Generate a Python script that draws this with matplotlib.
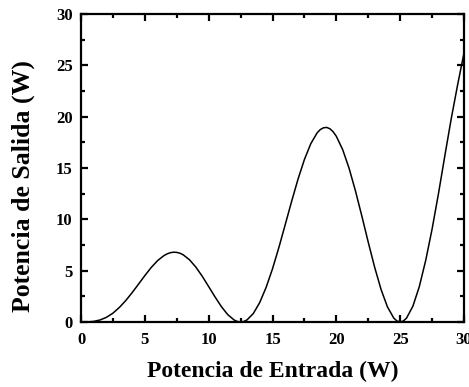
import matplotlib
matplotlib.use("Agg")
import matplotlib.pyplot as plt
from matplotlib.ticker import MultipleLocator

# Input power (W) and the corresponding output power (W)
p_in = [0.0, 0.5, 1.0, 1.5, 2.0, 2.5, 3.0, 3.5, 4.0, 4.5,
        5.0, 5.5, 6.0, 6.5, 6.75, 7.0, 7.25, 7.5, 7.75, 8.0, 8.5, 9.0, 9.5,
        10.0, 10.5, 11.0, 11.5, 12.0, 12.25, 12.5, 12.75, 13.0, 13.5, 14.0, 14.5,
        15.0, 15.5, 16.0, 16.5, 17.0, 17.5, 18.0, 18.5, 18.75, 19.0, 19.25, 19.5,
        19.75, 20.0, 20.5, 21.0, 21.5, 22.0, 22.5, 23.0, 23.5, 24.0, 24.5, 24.75,
        25.0, 25.25, 25.5, 26.0, 26.5, 27.0, 27.5, 28.0, 28.5, 29.0, 29.5, 30.0]
p_out = [0.0, 0.01, 0.06, 0.20, 0.46, 0.86, 1.41, 2.08, 2.85, 3.68,
         4.52, 5.31, 5.98, 6.47, 6.64, 6.75, 6.80, 6.78, 6.70, 6.55, 6.06, 5.34, 4.45,
         3.45, 2.44, 1.49, 0.71, 0.19, 0.05, 0.0, 0.05, 0.20, 0.83, 1.90, 3.37,
         5.18, 7.26, 9.50, 11.76, 13.92, 15.83, 17.37, 18.43, 18.75, 18.92, 18.95, 18.82,
         18.53, 18.09, 16.78, 14.97, 12.76, 10.31, 7.77, 5.34, 3.18, 1.48, 0.38, 0.10,
         0.0, 0.10, 0.38, 1.55, 3.45, 6.00, 9.05, 12.50, 16.20, 19.80, 23.10, 26.2]

x_ticks = [0, 5, 10, 15, 20, 25, 30]
y_ticks = [0, 5, 10, 15, 20, 25, 30]

serif = ["Liberation Serif", "DejaVu Serif"]

fig = plt.figure(figsize=(4.69, 3.87), dpi=100)
ax = fig.add_axes([81 / 469, 65 / 387, 383 / 469, 308 / 387])

ax.plot(p_in, p_out, color="black", linewidth=1.1, solid_joinstyle="round")

ax.set_xlim(0, 30)
ax.set_ylim(0, 30)
ax.set_xticks(x_ticks)
ax.set_yticks(y_ticks)
ax.xaxis.set_minor_locator(MultipleLocator(2.5))
ax.yaxis.set_minor_locator(MultipleLocator(2.5))

for s in ax.spines.values():
    s.set_linewidth(1.6)

ax.tick_params(which="both", direction="in", top=True, right=True, width=1.6)
ax.tick_params(which="major", length=5)
ax.tick_params(which="minor", length=3)
ax.tick_params(axis="x", which="major", pad=7)
ax.tick_params(axis="y", which="major", pad=6)

for lbl in ax.get_xticklabels() + ax.get_yticklabels():
    lbl.set_fontfamily(serif)
    lbl.set_fontweight("bold")
    lbl.set_fontsize(12)

ax.set_xlabel("Potencia de Entrada (W)", family=serif, fontweight="bold",
              fontsize=17)
ax.set_ylabel("Potencia de Salida (W)", family=serif, fontweight="bold",
              fontsize=18.5)
ax.xaxis.set_label_coords(0.5, -0.127)
ax.yaxis.set_label_coords(-0.119, 0.44)

fig.savefig("out.png", dpi=100)
